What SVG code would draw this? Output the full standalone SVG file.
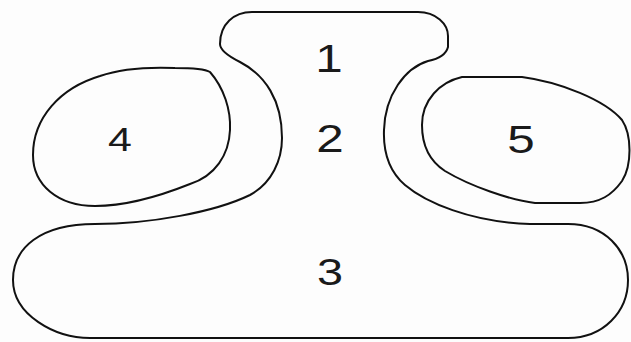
<svg xmlns="http://www.w3.org/2000/svg" width="631" height="342" viewBox="0 0 631 342">
<style>
.ol{fill:none;stroke:#111;stroke-width:2;stroke-linejoin:round}
.lb{font-family:"Liberation Sans",Arial,sans-serif;fill:#1a1a1a;text-anchor:middle}
</style>
<rect width="631" height="342" fill="#fdfdfd"/>
<g id="body">
<path class="ol" d="M252,12 L418,12 C436,12 448,24 448,36 L448,47 C446,55 438,59 428,61 C405,68 385,95 384,130 C383,155 390,172 405,185 C425,202 470,222 530,224 L568,224 C605,224 628,250 628,280 C628,312 603,338 568,338 L90,338 C55,338 13,315 13,280 C13,248 40,224 95,224 C150,224 215,212 250,195 C272,183 282,160 282,138 C282,100 265,75 240,62 C228,56 220,50 220,44 C220,24 234,12 252,12 Z"/>
<text class="lb" font-size="38" transform="translate(329,72) scale(1.3,1)">1</text>
<text class="lb" font-size="38" transform="translate(330,152) scale(1.3,1)">2</text>
<text class="lb" font-size="36" transform="translate(330,285) scale(1.3,1)">3</text>
</g>
<g id="region4">
<path class="ol" d="M100,76 C120,69 150,67 175,68 C195,68 205,69 210,72 C224,88 231,110 230,130 C229,155 215,176 190,184 C160,196 125,206 95,206 C58,206 33,185 33,155 C33,118 60,88 100,76 Z"/>
<text class="lb" font-size="33" transform="translate(120,151) scale(1.3,1)">4</text>
</g>
<g id="region5">
<path class="ol" d="M462,77 L522,77 C560,82 605,100 622,120 C632,135 632,165 622,181 C612,195 600,203 580,203 L535,203 C510,200 470,186 445,171 C428,160 422,143 422,125 C422,100 440,82 462,77 Z"/>
<text class="lb" font-size="38" transform="translate(521,153) scale(1.3,1)">5</text>
</g>
</svg>
